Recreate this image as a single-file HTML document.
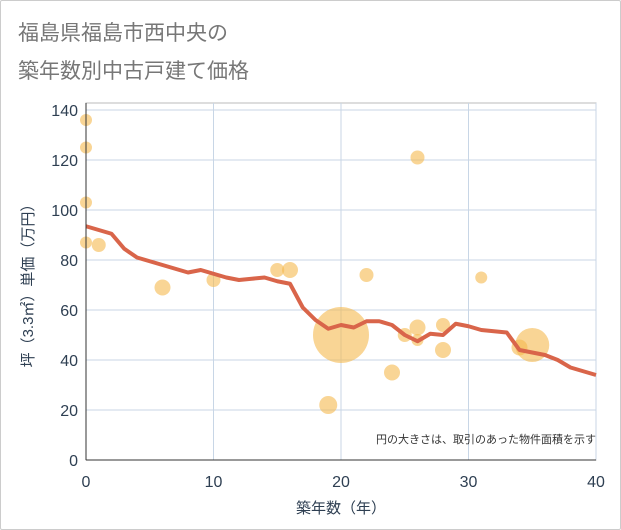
<!DOCTYPE html>
<html><head><meta charset="utf-8"><style>
body{margin:0;background:#fff;font-family:"Liberation Sans","Noto Sans CJK JP",sans-serif}
#wrap{position:relative;width:619px;height:528px;border:1px solid #ccc;border-radius:2px}
</style></head><body>
<div id="wrap">
<svg id="chart" width="621" height="530" style="position:absolute;left:-1px;top:-1px">
<text x="18" y="40" font-size="21" fill="#777">福島県福島市西中央の</text>
<text x="18" y="78" font-size="21" fill="#777">築年数別中古戸建て価格</text>
<g id="grid"></g><g id="bubbles"></g><g id="line"></g><g id="axes"></g>
<text x="596" y="443" font-size="11" fill="#333" text-anchor="end">円の大きさは、取引のあった物件面積を示す</text>
<text x="341" y="513" font-size="15" fill="#2e3f52" text-anchor="middle">築年数（年）</text>
<text transform="translate(33,282) rotate(-90)" font-size="15" fill="#2e3f52" text-anchor="middle">坪（3.3㎡）単価（万円）</text>
</svg></div>
<script>
const xTicks=[0,10,20,30,40];
const yTicks=[0,20,40,60,80,100,120,140];
const lineYears=[0,1,2,3,4,5,6,7,8,9,10,11,12,13,14,15,16,17,18,19,20,21,22,23,24,25,26,27,28,29,30,31,32,33,34,35,36,37,38,39,40];
const linePrices=[93.5,92,90.5,84.5,81,79.5,78,76.5,75,76,74.5,73,72,72.5,73,71.5,70.5,61,56,52.5,54,53,55.5,55.5,54,50,47.5,50.5,50,54.5,53.5,52,51.5,51,44,43,42,40,37,35.5,34];
const bubbleYears=[0,0,0,0,1,6,10,15,16,19,20,22,24,25,26,26,26,28,28,31,34,35];
const bubblePrices=[136,125,103,87,86,69,72,76,76,22,50,74,35,50,121,53,48,54,44,73,45,46];
const bubbleSizes=[6,6,6,6,7,8,7,7,8,9,28,7,8,7,7,8,6,7,8,6,8,17];
const X0=86,X1=596,Y0=460,Y140=110,TOP=103;
const sx=v=>X0+(X1-X0)*v/40, sy=v=>Y0-(Y0-Y140)*v/140;
const NS="http://www.w3.org/2000/svg";
function mk(p,t,a){const e=document.createElementNS(NS,t);for(const k in a)e.setAttribute(k,a[k]);p.appendChild(e);return e;}
const grid=document.getElementById('grid'),axes=document.getElementById('axes');
mk(grid,'rect',{x:X0,y:TOP,width:X1-X0,height:Y0-TOP,fill:'none',stroke:'#bbb'});
yTicks.forEach(v=>{const l=mk(grid,'line',{x1:X0,x2:X1,y1:sy(v),y2:sy(v),stroke:'#c8d6e6'});

const t=mk(axes,'text',{x:X0-8,y:sy(v)+6,'font-size':16,fill:'#2e3f52','text-anchor':'end'});t.textContent=v;
});
xTicks.forEach(v=>{const l=mk(grid,'line',{x1:sx(v),x2:sx(v),y1:TOP,y2:Y0,stroke:'#c8d6e6'});

const t=mk(axes,'text',{x:sx(v),y:487,'font-size':16,fill:'#2e3f52','text-anchor':'middle'});t.textContent=v;
});
mk(axes,'line',{x1:X0,x2:X1,y1:Y0,y2:Y0,stroke:'#333'});
mk(axes,'line',{x1:X0,x2:X0,y1:TOP,y2:Y0,stroke:'#333'});
const bg=document.getElementById('bubbles');
bubbleYears.forEach((yr,i)=>{const c=mk(bg,'circle',{cx:sx(yr),cy:sy(bubblePrices[i]),r:bubbleSizes[i],fill:'#f5b94f','fill-opacity':0.6});
});
const pts=lineYears.map((yr,i)=>sx(yr)+','+sy(linePrices[i])).join(' ');
const pl=mk(document.getElementById('line'),'polyline',{points:pts,fill:'none',stroke:'#d9654a','stroke-width':4,'stroke-linejoin':'round'});


</script></body></html>
